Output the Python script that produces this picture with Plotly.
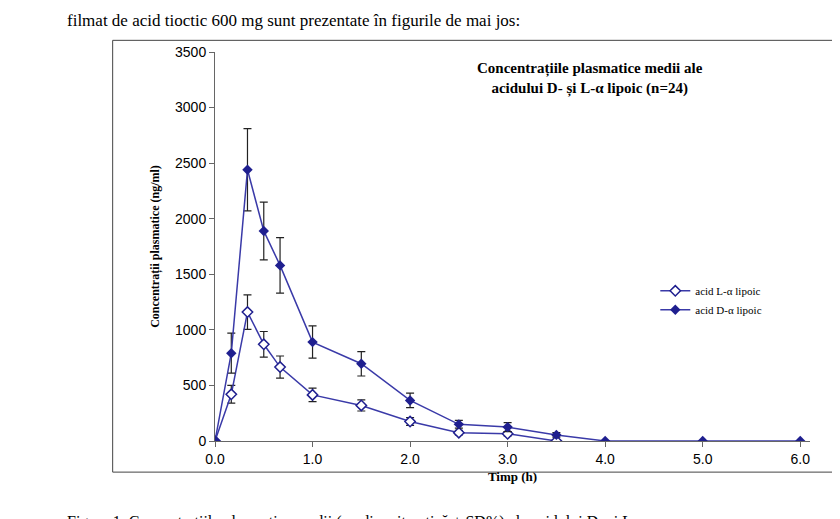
import plotly.graph_objects as go

time_h = [0, 0.167, 0.333, 0.5, 0.667, 1.0, 1.5, 2.0, 2.5, 3.0, 3.5, 4.0, 5.0, 6.0]
d_mean = [0, 790, 2440, 1890, 1580, 890, 695, 365, 150, 125, 55, 0, 0, 0]
d_sd = [0, 180, 370, 260, 250, 145, 110, 65, 35, 40, 20, 0, 0, 0]
l_time = time_h[:11]
l_mean = [0, 420, 1160, 870, 665, 415, 320, 175, 75, 65, 0]
l_sd = [0, 80, 155, 115, 100, 60, 50, 35, 20, 20, 0]

x_ticks = [0, 1, 2, 3, 4, 5, 6]
x_labels = ["0.0", "1.0", "2.0", "3.0", "4.0", "5.0", "6.0"]
y_ticks = list(range(0, 3501, 500))

blue = "#1f1f8f"
serif = "Liberation Serif"

fig = go.Figure()

fig.add_trace(go.Scatter(
    x=l_time, y=l_mean, mode="lines+markers", name="acid L-α lipoic",
    line=dict(color="#3a3aa8", width=1.5),
    marker=dict(symbol="diamond", size=8, color="white", line=dict(color=blue, width=1.5)),
    error_y=dict(type="data", array=l_sd, color="#222", thickness=1.2, width=4),
))
fig.add_trace(go.Scatter(
    x=time_h, y=d_mean, mode="lines+markers", name="acid D-α lipoic",
    line=dict(color="#3a3aa8", width=1.5),
    marker=dict(symbol="diamond", size=8, color=blue),
    error_y=dict(type="data", array=d_sd, color="#222", thickness=1.2, width=4),
))

fig.update_layout(
    width=840, height=519,
    paper_bgcolor="white", plot_bgcolor="white",
    margin=dict(l=207, r=38, t=44, b=86),
    font=dict(family=serif, color="black", size=13),
    showlegend=True,
    legend=dict(x=0.74, y=0.30, bgcolor="rgba(0,0,0,0)", font=dict(size=11)),
    xaxis=dict(range=[0, 6.1], tickvals=x_ticks, ticktext=x_labels,
               showgrid=False, showline=True, linecolor="#666", ticks="outside",
               tickcolor="#666", ticklen=5, zeroline=False,
               title=dict(text="<b>Timp (h)</b>", font=dict(size=13), standoff=6),
               tickfont=dict(family="Liberation Sans", size=14)),
    yaxis=dict(range=[0, 3500], tickvals=y_ticks, showgrid=False,
               showline=True, linecolor="#666", ticks="outside", tickcolor="#666",
               ticklen=5, zeroline=False,
               title=dict(text="<b>Concentrații plasmatice (ng/ml)</b>", font=dict(size=12), standoff=12),
               tickfont=dict(family="Liberation Sans", size=14)),
    annotations=[
        dict(text="<b>Concentrațiile plasmatice medii ale<br>acidului D- și L-α lipoic (n=24)</b>",
             xref="paper", yref="paper", x=0.63, y=0.985, showarrow=False,
             font=dict(size=15), align="center", yanchor="top"),
        dict(text="filmat de acid tioctic 600 mg sunt prezentate în figurile de mai jos:",
             xref="paper", yref="paper", x=-0.252, y=1.11, xanchor="left",
             showarrow=False, font=dict(size=17)),
        dict(text="Figura 1. Concentrațiile plasmatice medii (media aritmetică ± SD%) ale acidului D- și L-α",
             xref="paper", yref="paper", x=-0.252, y=-0.18, xanchor="left", yanchor="top",
             showarrow=False, font=dict(size=16)),
    ],
    shapes=[dict(type="rect", xref="paper", yref="paper", x0=-0.172, x1=1.06, y0=-0.08, y1=1.03,
                 line=dict(color="#444", width=1))],
)

fig.write_html("out.html")
